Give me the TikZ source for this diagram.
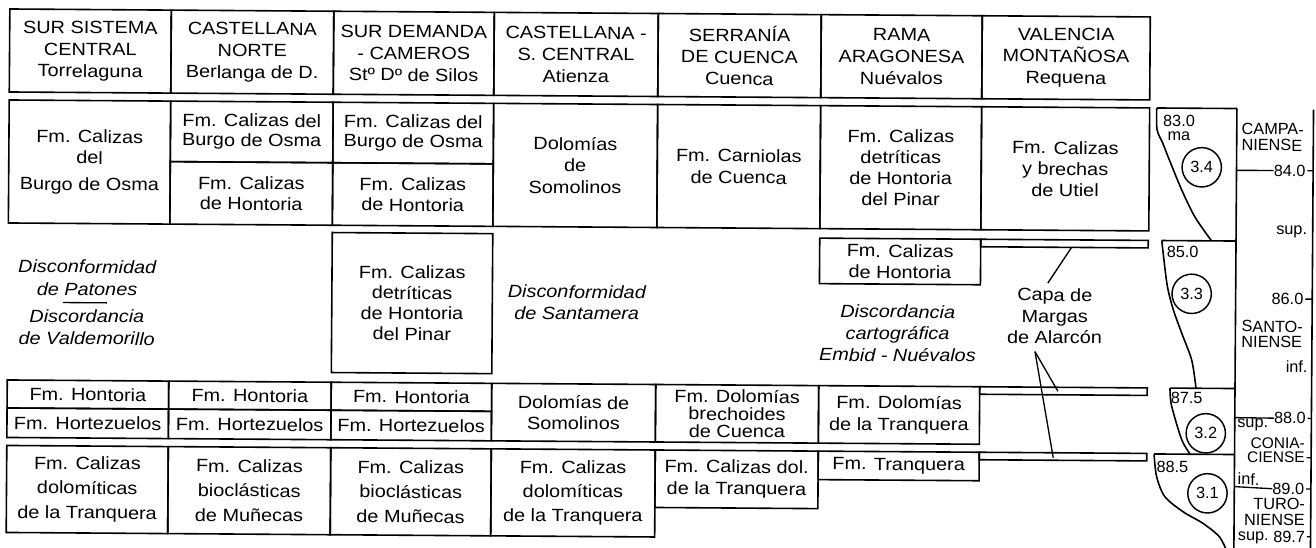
\documentclass[tikz,border=0pt]{standalone}
\usepackage{fontspec}
\setmainfont{Liberation Sans}[FakeStretch=1.12]
\newfontfamily\narrowsans{Liberation Sans}
\newcommand\dgf[1]{\fontsize{13.3}{#1}\selectfont}
\newcommand\lblf[1]{\narrowsans\fontsize{12.2}{#1}\selectfont}
\newcommand\cellnode[7][]{%
  \node[cellbox,#1,minimum width={(#5-#3)*0.75pt},minimum height={(#6-#4)*0.75pt}] (#2) at ({(#3+#5)/2},{(#4+#6)/2}) {#7};}
\begin{document}
\begin{tikzpicture}[x=0.75pt,y=-0.75pt,
  every node/.style={inner sep=0pt,outer sep=0pt,transform shape},
  cellbox/.style={draw,line width=1.2pt,align=center,font=\dgf{15.8}},
  txt/.style={align=center,font=\dgf{16}},
  itx/.style={align=center,font=\dgf{16}\itshape},
  lbl/.style={font=\lblf{13}},
  ring/.style={circle,draw,line width=1.1pt,minimum size=29.5pt,font=\lblf{13}},
  rule/.style={line width=1.2pt},
  thin/.style={line width=1pt}]
\useasboundingbox (0,0) rectangle (1316,547);
\fill[white] (0,0) rectangle (1316,547);
\begin{scope}[rotate around={-0.4:(658,273)}]
% header
\cellnode[font=\dgf{16.3}]{h1}{8}{13.5}{169.5}{96.5}{SUR SISTEMA\\CENTRAL\\Torrelaguna}
\cellnode[font=\dgf{16.3}]{h2}{169.5}{13.5}{332}{96.5}{CASTELLANA\\NORTE\\Berlanga de D.}
\cellnode[font=\dgf{16.3}]{h3}{332}{13.5}{492.5}{96.5}{SUR DEMANDA\\- CAMEROS\\Stº Dº de Silos}
\cellnode[font=\dgf{16.3}]{h4}{492.5}{13.5}{656.5}{96.5}{CASTELLANA -\\S. CENTRAL\\Atienza}
\cellnode[font=\dgf{16.3}]{h5}{656.5}{13.5}{819.5}{96.5}{SERRANÍA\\DE CUENCA\\Cuenca}
\cellnode[font=\dgf{16.3}]{h6}{819.5}{13.5}{980.5}{96.5}{RAMA\\ARAGONESA\\Nuévalos}
\cellnode[font=\dgf{16.3}]{h7}{980.5}{13.5}{1148.5}{96.5}{VALENCIA\\MONTAÑOSA\\Requena}
% upper block
\cellnode{b1}{8}{104.5}{169.5}{227.5}{Fm. Calizas\\del\\[4pt]Burgo de Osma}
\cellnode[font=\dgf{14.6}]{b2u}{169.5}{104.5}{332}{165}{Fm. Calizas del\\Burgo de Osma}
\cellnode[font=\dgf{15.5}]{b2l}{169.5}{165}{332}{227.5}{Fm. Calizas\\de Hontoria}
\cellnode[font=\dgf{14.6}]{b3u}{332}{104.5}{492.5}{165}{Fm. Calizas del\\Burgo de Osma}
\cellnode[font=\dgf{15.5}]{b3l}{332}{165}{492.5}{227.5}{Fm. Calizas\\de Hontoria}
\cellnode[font=\dgf{16.3}]{b4}{492.5}{104.5}{656.5}{227.5}{Dolomías\\de\\Somolinos}
\cellnode[font=\dgf{16.3}]{b5}{656.5}{104.5}{819.5}{227.5}{Fm. Carniolas\\de Cuenca}
\cellnode{b6}{819.5}{104.5}{980.5}{227.5}{Fm. Calizas\\detríticas\\de Hontoria\\del Pinar}
\cellnode{b7}{980.5}{104.5}{1148.5}{227.5}{Fm. Calizas\\y brechas\\de Utiel}
% middle
\cellnode[font=\dgf{15.4}]{m3}{332}{234.8}{492.5}{374.8}{Fm. Calizas\\detríticas\\de Hontoria\\del Pinar}
\cellnode{m6}{819.5}{237}{980.5}{282.5}{Fm. Calizas\\de Hontoria}
\cellnode{barA}{980.5}{237}{1148}{244.5}{}
\node[itx,font=\dgf{17}\itshape] (patones) at (87.2,282) {Disconformidad\\de Patones};
\node[itx,font=\dgf{16.7}\itshape] (valdem) at (87.2,331.2) {Discordancia\\de Valdemorillo};
\coordinate (sepL) at (63,306.7);
\coordinate (sepR) at (107,306.7);
\draw[thin] (sepL) -- (sepR);
\node[itx] (santa) at (577,303) {Disconformidad\\de Santamera};
\node[itx,font=\dgf{16.3}\itshape] (embid) at (898,331.6) {Discordancia\\cartográfica\\Embid - Nuévalos};
\node[txt] (capa) at (1055,313.3) {Capa de\\Margas\\de Alarcón};
% lower rows
\cellnode{l1a}{8}{384.5}{169.5}{412.5}{Fm. Hontoria}
\cellnode{l1b}{8}{412.5}{169.5}{442}{Fm. Hortezuelos}
\cellnode{l2a}{169.5}{384.5}{332}{412.5}{Fm. Hontoria}
\cellnode{l2b}{169.5}{412.5}{332}{442}{Fm. Hortezuelos}
\cellnode{l3a}{332}{384.5}{492.5}{412.5}{Fm. Hontoria}
\cellnode{l3b}{332}{412.5}{492.5}{442}{Fm. Hortezuelos}
\cellnode[font=\dgf{15.5}]{l4}{492.5}{384.5}{656.5}{442}{Dolomías de\\Somolinos}
\cellnode[font=\dgf{13.1}]{l5}{656.5}{384.5}{819.5}{442}{Fm. Dolomías\\brechoides\\de Cuenca}
\cellnode[font=\dgf{16.3}]{l6}{819.5}{384.5}{980.5}{442}{Fm. Dolomías\\de la Tranquera}
\cellnode{barB}{980.5}{384.5}{1148}{392}{}
% bottom block
\cellnode[font=\dgf{18.5}]{k1}{8}{450}{169.5}{537}{Fm. Calizas\\dolomíticas\\de la Tranquera}
\cellnode[font=\dgf{18.5}]{k2}{169.5}{450}{332}{537}{Fm. Calizas\\bioclásticas\\de Muñecas}
\cellnode[font=\dgf{18.5}]{k3}{332}{450}{492.5}{537}{Fm. Calizas\\bioclásticas\\de Muñecas}
\cellnode[font=\dgf{18}]{k4}{492.5}{450}{656.5}{537}{Fm. Calizas\\dolomíticas\\de la Tranquera}
\cellnode[font=\dgf{16.3}]{k5}{656.5}{450}{819.5}{507.5}{Fm. Calizas dol.\\de la Tranquera}
\cellnode{k6}{819.5}{450}{980.5}{478.5}{Fm. Tranquera}
\cellnode{barC}{980.5}{450}{1148}{457.5}{}
% leaders to Capa de Margas de Alarcon
\coordinate (ca1) at (1071.5,244.5);
\coordinate (ca2) at (1048,280.3);
\coordinate (cb0) at (1035.6,349);
\coordinate (cb1) at (1058.8,388.5);
\coordinate (cb2) at (1054.6,455);
\draw[thin] (ca1) -- (ca2);
\draw[thin] (cb0) -- (cb1);
\draw[thin] (cb0) -- (cb2);
% time scale
\coordinate (vtop) at (1312.5,105);
\coordinate (vbot) at (1312.5,552);
\draw[rule] (vtop) -- (vbot);
\draw[rule] (1235.8,104.5) -- (1235.8,552);
\draw[rule] (1155.6,104.5) -- (1235.8,104.5);
\draw[rule] plot[smooth,tension=0.5] coordinates {(1155.6,104.5) (1156,126) (1162,140) (1168,155) (1181,186) (1194.4,213) (1211.3,237)};
\draw[rule] (1161.5,237) -- (1235.8,237);
\draw[rule] plot[smooth,tension=0.5] coordinates {(1161.5,237) (1163.3,252) (1167.5,283) (1173.6,306.3) (1182.2,329.7) (1192.3,356.4) (1196.8,384.5)};
\draw[rule] (1170.8,384.5) -- (1235.8,384.5);
\draw[rule] plot[smooth,tension=0.5] coordinates {(1170.8,384.5) (1172,400) (1179.4,426) (1184.4,439.4) (1191.3,450.5)};
\draw[rule] (1155.3,450.5) -- (1235.8,450.5);
\draw[rule] plot[smooth,tension=0.5] coordinates {(1155.3,450.5) (1158,473) (1166.3,493) (1184.6,508) (1204.6,519.5) (1221.3,533) (1230,550)};
\node[lbl] (m830) at (1178,117.5) {83.0};
\node[lbl] (mma) at (1178,133) {ma};
\node[ring] (c34) at (1201,163.5) {3.4};
\node[lbl] (m850) at (1182.5,248.6) {85.0};
\node[ring] (c33) at (1191.8,290.1) {3.3};
\node[lbl] (m875) at (1187.6,394.5) {87.5};
\node[ring] (c32) at (1206.9,429.5) {3.2};
\node[lbl] (m885) at (1173.8,463) {88.5};
\node[ring] (c31) at (1209,489.5) {3.1};
\node[lbl,align=left,anchor=west,font=\lblf{12}] (campa) at (1240.7,133) {CAMPA-\\NIENSE};
\node[lbl] (n84) at (1288.9,166.2) {84.0};
\coordinate (r84) at (1235.8,166.3);
\draw[thin] (r84) -- (n84.west);
\node[lbl] (sup1) at (1291.4,227.4) {sup.};
\node[lbl] (n86) at (1287.7,294.6) {86.0};
\node[lbl,align=left,anchor=west,font=\lblf{11.3}] (santo) at (1242,329.8) {SANTO-\\NIENSE};
\node[lbl] (inf1) at (1297.3,362.3) {inf.};
\node[lbl] (n88) at (1291,413.9) {88.0};
\coordinate (r88) at (1235.8,413.6);
\draw[thin] (r88) -- (n88.west);
\node[lbl] (sup2) at (1253.8,420.7) {sup.};
\node[lbl,anchor=east,font=\narrowsans\fontsize{11.6}{12}\selectfont] (conia) at (1306,438.6) {CONIA-};
\node[lbl,anchor=east,font=\narrowsans\fontsize{11.6}{12}\selectfont] (ciense) at (1306,453.2) {CIENSE};
\node[lbl] (inf2) at (1250,475) {inf.};
\node[lbl] (n89) at (1289.8,484.5) {89.0};
\coordinate (r89) at (1235.8,482.6);
\draw[thin] (r89) -- (n89.west);
\node[lbl,anchor=east] (turo) at (1306.5,499.5) {TURO-};
\node[lbl,anchor=east] (niense) at (1306.5,515.8) {NIENSE};
\node[lbl] (sup3) at (1255.2,534) {sup.};
\node[lbl] (n897) at (1291,532.3) {89.7};
\foreach \n in {n84,n86,n88,ciense,n89,n897}
  \draw[thin,shorten <=1.5pt] (\n.east) -- (\n.east -| vtop);
\end{scope}
\end{tikzpicture}
\end{document}
